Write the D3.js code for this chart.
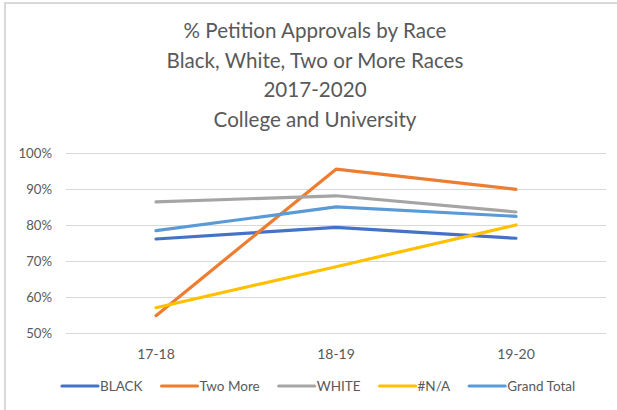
<!DOCTYPE html>
<html><head><meta charset="utf-8">
<script src="https://cdn.jsdelivr.net/npm/d3@7"></script>
<style>body{margin:0;background:#fff}svg{display:block}text{font-family:Lato,"Open Sans",sans-serif;fill:#595959}</style>
</head><body><svg id="c" width="617" height="410"></svg>
<script>
const titleLines = ["% Petition Approvals by Race","Black, White, Two or More Races","2017-2020","College and University"];
const categories = ["17-18","18-19","19-20"];
const seriesNames = ["BLACK","Two More","WHITE","#N/A","Grand Total"];
const seriesColors = ["#4472C4","#ED7D31","#A5A5A5","#FFC000","#5B9BD5"];
const black = [0.762,0.794,0.764];
const twoMore = [0.549,0.956,0.900];
const white = [0.865,0.882,0.837];
const na = [0.571,0.685,0.801];
const grandTotal = [0.785,0.851,0.825];
const yTicks = [0.5,0.6,0.7,0.8,0.9,1.0];

const series = [black,twoMore,white,na,grandTotal].map((v,i)=>({name:seriesNames[i],color:seriesColors[i],values:v}));
const svg = d3.select("#c");
svg.append("path").attr("d","M5,410V3H617").attr("fill","none").attr("stroke","#d9d9d9").attr("stroke-width",2);

const x = d3.scaleBand().domain(categories).range([66,606]);
const y = d3.scaleLinear().domain([0.5,1.0]).range([333.3,153.3]);

const tg = svg.append("g");
titleLines.forEach((t,i)=>tg.append("text").attr("x",315).attr("y",38+i*29.7).attr("text-anchor","middle").attr("font-size",20.6).text(t));

svg.append("g").selectAll("line").data(yTicks).join("line")
 .attr("x1",66).attr("x2",606).attr("y1",d=>Math.round(y(d))+0.5).attr("y2",d=>Math.round(y(d))+0.5)
 .attr("stroke","#d9d9d9").attr("stroke-width",1.2);

const yAxis = svg.append("g").attr("transform","translate(66,0)")
 .call(d3.axisLeft(y).tickValues(yTicks).tickFormat(d3.format(".0%")).tickSize(0).tickPadding(14));
yAxis.select(".domain").remove();
yAxis.selectAll("text").attr("font-size",13.2).attr("fill","#595959").attr("font-family","Lato,'Open Sans',sans-serif");

const xAxis = svg.append("g").attr("transform","translate(0,340)")
 .call(d3.axisBottom(x).tickSize(0).tickPadding(9));
xAxis.select(".domain").remove();
xAxis.selectAll("text").attr("font-size",14).attr("fill","#595959").attr("font-family","Lato,'Open Sans',sans-serif");

const line = d3.line().x((d,i)=>x(categories[i])+x.bandwidth()/2).y(d=>y(d));
svg.append("g").selectAll("path").data(series).join("path")
 .attr("d",d=>line(d.values)).attr("fill","none").attr("stroke",d=>d.color)
 .attr("stroke-width",3.2).attr("stroke-linecap","round").attr("stroke-linejoin","round");

const lg = svg.append("g");
let lx = 62;
series.forEach(s=>{
  lg.append("line").attr("x1",lx).attr("x2",lx+36).attr("y1",386).attr("y2",386)
    .attr("stroke",s.color).attr("stroke-width",3.2).attr("stroke-linecap","round");
  const t = lg.append("text").attr("x",lx+38).attr("y",386).attr("dy","0.35em").attr("font-size",13.5).text(s.name);
  lx += 38 + t.node().getComputedTextLength() + 19;
});
</script></body></html>
